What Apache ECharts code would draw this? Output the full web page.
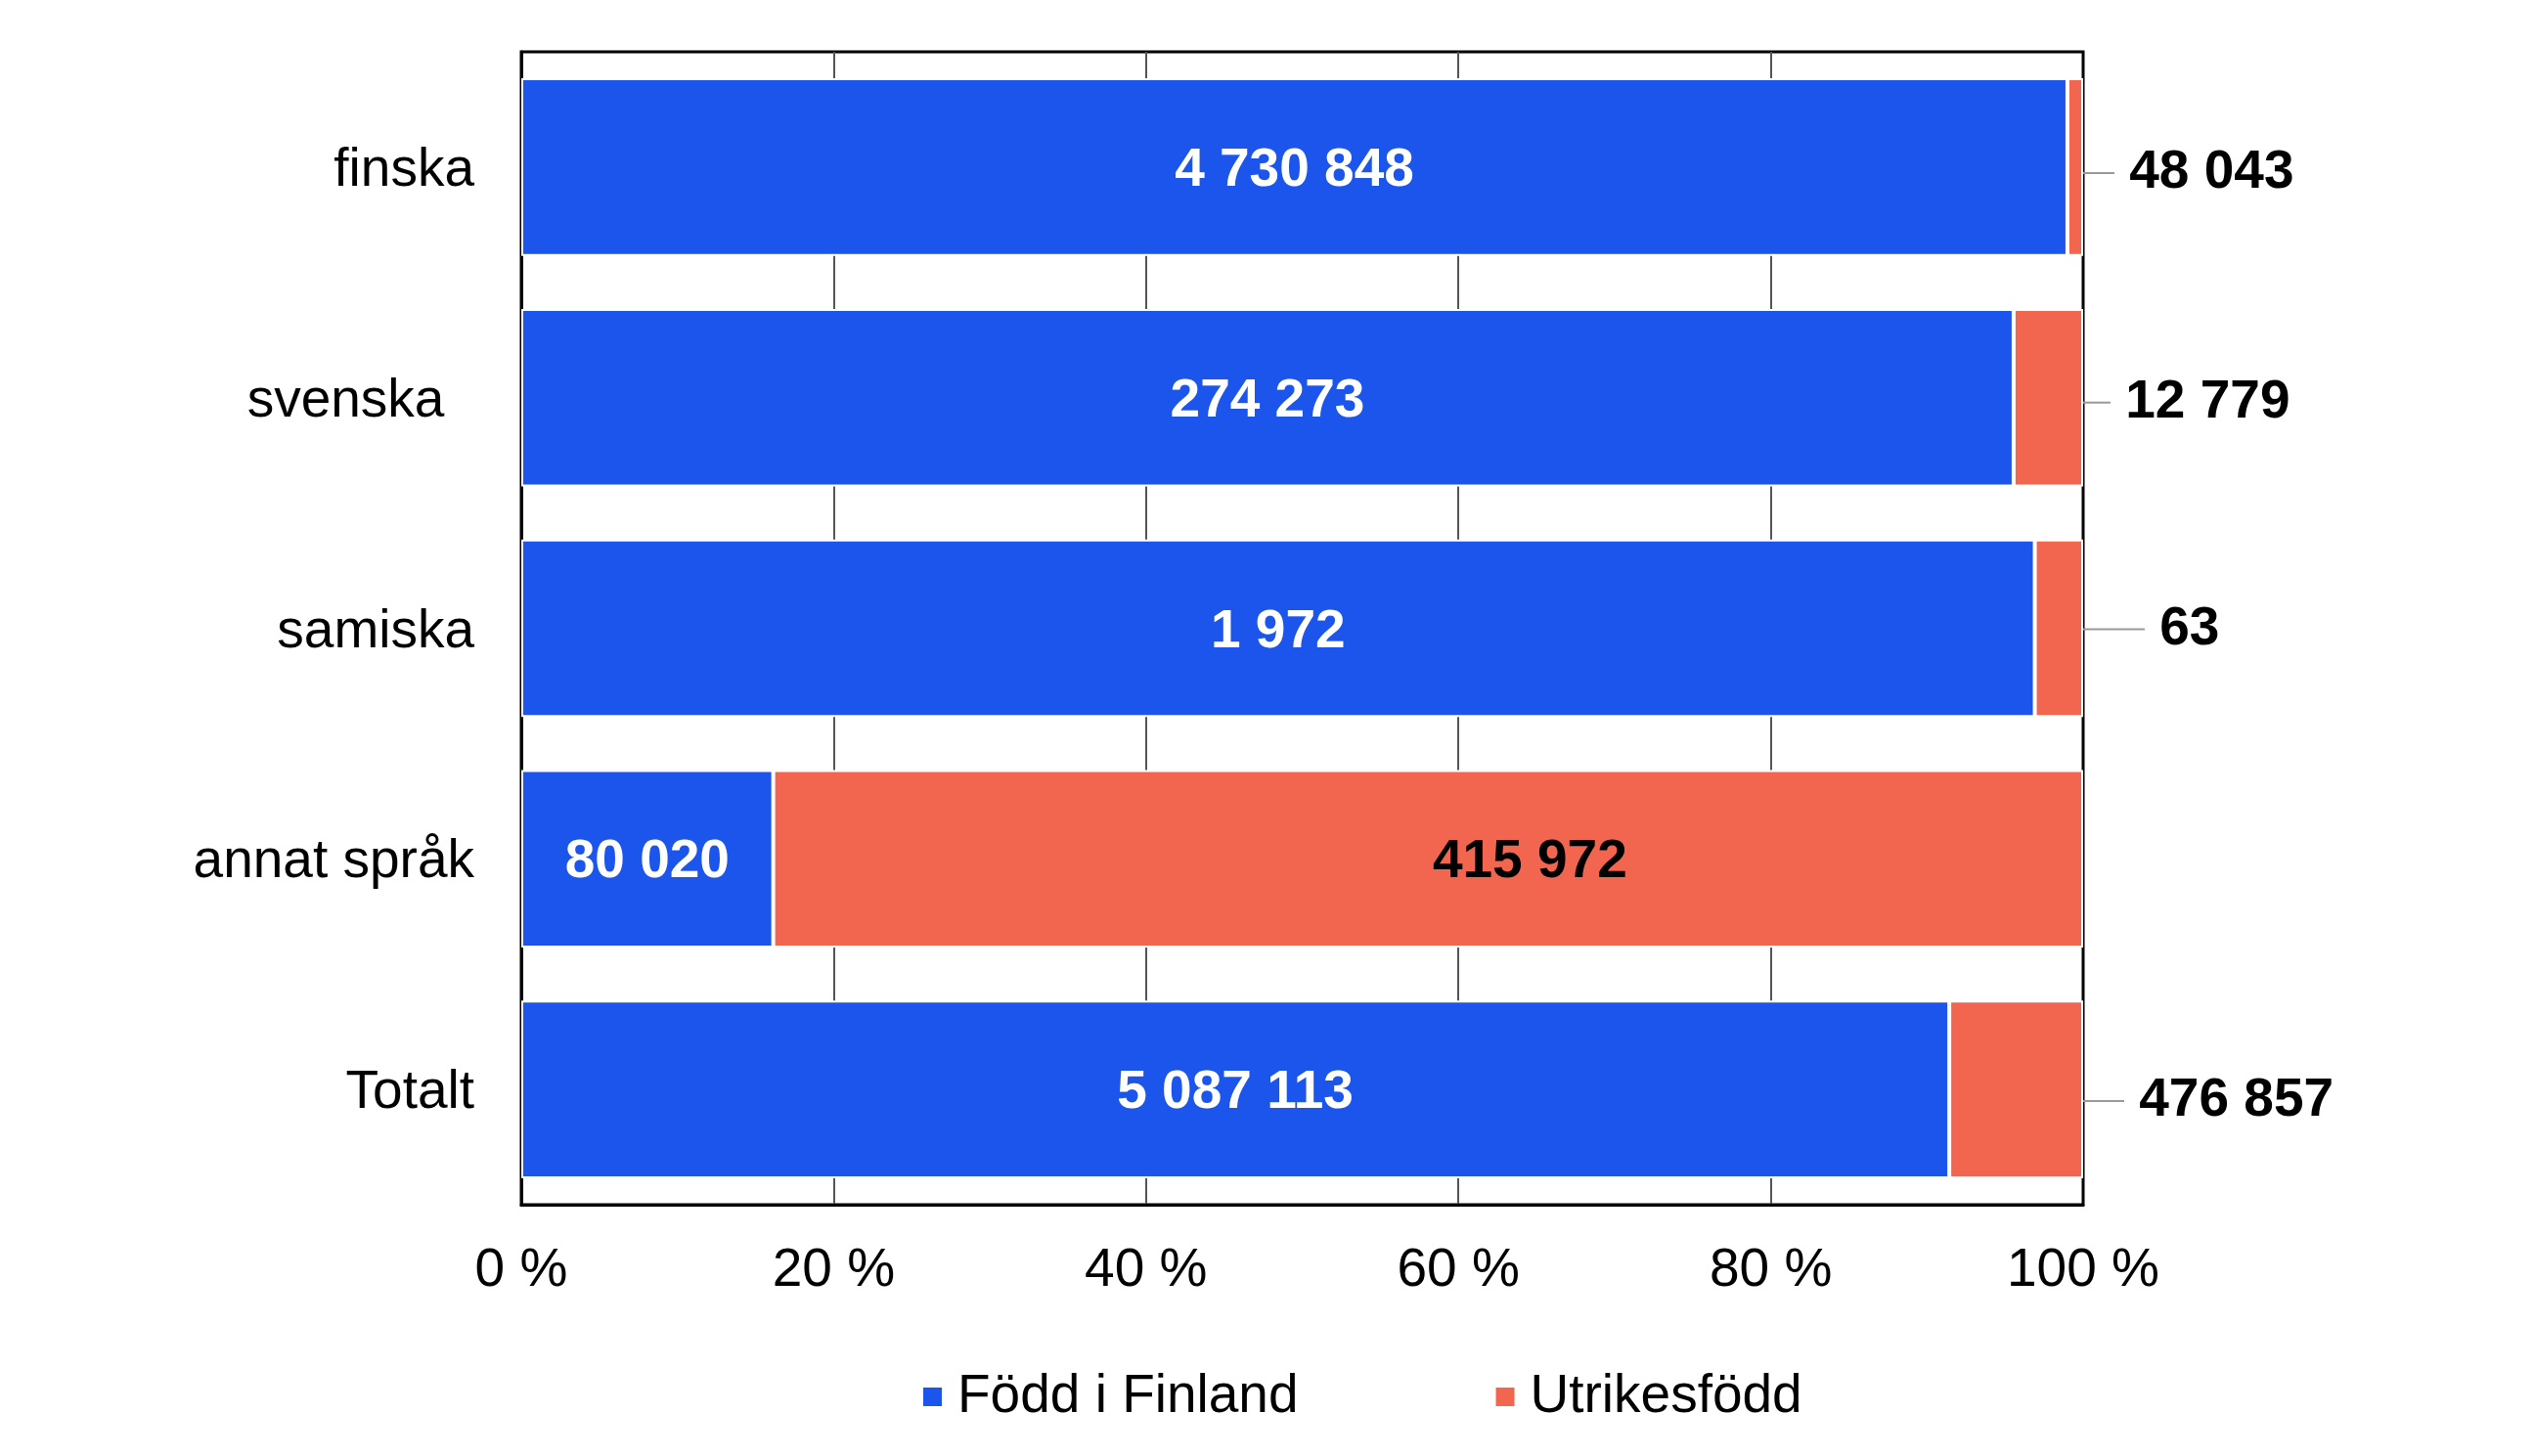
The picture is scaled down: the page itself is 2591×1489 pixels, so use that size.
<!DOCTYPE html>
<html>
<head>
<meta charset="utf-8">
<script src="https://cdn.jsdelivr.net/npm/echarts@6/dist/echarts.min.js"></script>
<style>html,body{margin:0;padding:0;background:#fff}#c{width:2591px;height:1489px}</style>
</head>
<body>
<div id="c"></div>
<script>
const categories = ['finska', 'svenska  ', 'samiska', 'annat språk', 'Totalt'];
const bornFinland = [4730848, 274273, 1972, 80020, 5087113];
const bornAbroad = [48043, 12779, 63, 415972, 476857];
const seriesNames = ['Född i Finland', 'Utrikesfödd'];
const xTicks = [0, 20, 40, 60, 80, 100];

const FONT = "'Liberation Sans', Arial, sans-serif";
const BLUE = '#1B55EC';
const RED = '#F2654E';
const fmt = v => String(v).replace(/\B(?=(\d{3})+(?!\d))/g, ' ');

const totals = bornFinland.map((v, i) => v + bornAbroad[i]);
const dataFin = bornFinland.map((v, i) => ({ value: v / totals[i] * 100, raw: v }));
const dataAbr = bornAbroad.map((v, i) => {
  const share = v / totals[i] * 100;
  const item = { value: share, raw: v, inside: share > 50 };
  if (item.inside) {
    item.label = { position: 'inside', distance: 0 };
    item.labelLine = { show: false };
  }
  return item;
});

// label nudges (layout only)
const labelNudge = { 0: [28, 6], 1: [24, 5], 2: [59, 1], 3: [104, 4], 4: [38, 12] };

const chart = echarts.init(document.getElementById('c'), null, { renderer: 'canvas' });
chart.setOption({
  animation: false,
  textStyle: { fontFamily: FONT },
  grid: {
    left: 533, right: 461, top: 53, bottom: 257,
    show: true, borderColor: '#000', borderWidth: 3, backgroundColor: 'transparent'
  },
  legend: {
    bottom: 28, left: 937,
    icon: 'rect', itemWidth: 21, itemHeight: 21, itemGap: 200,
    textStyle: { fontSize: 55, color: '#000', fontFamily: FONT, padding: [0, 0, 0, 10] },
    data: seriesNames
  },
  xAxis: {
    type: 'value', min: xTicks[0], max: xTicks[xTicks.length - 1], interval: 20,
    axisLine: { show: true, lineStyle: { color: '#000', width: 3 } },
    axisTick: { show: false },
    axisLabel: { margin: 40, fontSize: 55, color: '#000', fontFamily: FONT, formatter: '{value} %' },
    splitLine: { show: true, lineStyle: { color: ['#000', '#555', '#555', '#555', '#555', '#000'], width: 2 } }
  },
  yAxis: {
    type: 'category', inverse: true, data: categories,
    axisLine: { show: true, lineStyle: { color: '#000', width: 3 } },
    axisTick: { show: false },
    axisLabel: {
      margin: 48, color: '#000', fontFamily: FONT,
      formatter: v => '{a|' + v + '}',
      rich: { a: { fontSize: 55, color: '#000', fontFamily: FONT, padding: [8, 0, 0, 0] } }
    }
  },
  series: [
    {
      name: seriesNames[0], type: 'bar', stack: 'tot', barCategoryGap: '23%',
      itemStyle: { color: BLUE, borderColor: '#fff', borderWidth: 2 },
      label: {
        show: true, position: 'inside', color: '#fff', fontWeight: 'bold', fontSize: 55, fontFamily: FONT,
        offset: [0, 4],
        formatter: p => fmt(p.data.raw)
      },
      data: dataFin
    },
    {
      name: seriesNames[1], type: 'bar', stack: 'tot', barCategoryGap: '23%',
      itemStyle: { color: RED, borderColor: '#fff', borderWidth: 2 },
      label: {
        show: true, position: 'right', distance: 4, color: '#000', fontWeight: 'bold', fontSize: 55, fontFamily: FONT,
        formatter: p => (p.data.inside ? '' : '\u00a0') + fmt(p.data.raw)
      },
      labelLayout: p => {
        const n = labelNudge[p.dataIndex] || [0, 0];
        return { dx: n[0], dy: n[1] };
      },
      labelLine: { show: true, lineStyle: { color: '#999', width: 2 } },
      data: dataAbr
    }
  ]
});
</script>
</body>
</html>
